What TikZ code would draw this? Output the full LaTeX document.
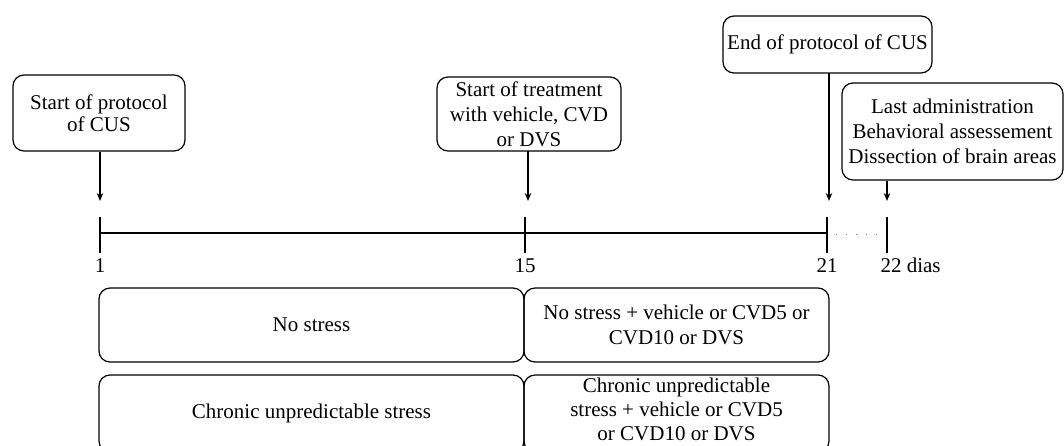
\documentclass[tikz,border=0pt]{standalone}
\usepackage{fontspec}
\setmainfont{Liberation Serif}
\usetikzlibrary{arrows.meta}
\begin{document}
\begin{tikzpicture}[x=1pt,y=-1pt,
  every node/.style={font=\fontsize{21}{25}\selectfont},
  evbox/.style={draw,line width=1.2pt,rounded corners=11pt,align=center,inner sep=0pt},
  arr/.style={line width=1.3pt,-{Stealth[length=8pt,width=6.5pt]}},
  tick/.style={line width=1.2pt},
  lbl/.style={anchor=base}
]
\clip (0,0) rectangle (1064,445);
\useasboundingbox (0,0) rectangle (1064,445);

% event boxes
\node[evbox,minimum width=172pt,minimum height=76pt,font=\fontsize{21}{22}\selectfont] (b1) at (99,113) {Start of protocol\\of CUS};
\node[evbox,minimum width=184pt,minimum height=74pt] (b2) at (529,114) {Start of treatment\\with vehicle, CVD\\or DVS};
\node[evbox,minimum width=209pt,minimum height=57pt] (b3) at (827.5,44.5) {End of protocol of CUS};
\node[evbox,minimum width=221pt,minimum height=97pt] (b4) at (952.5,131.5) {Last administration\\Behavioral assessement\\Dissection of brain areas};

% axis coordinates
\coordinate (t1) at (100,233);
\coordinate (t15) at (525,233);
\coordinate (t21) at (827,233);
\coordinate (t22) at (887,233);
\coordinate (a1) at (100,201);
\coordinate (a15) at (528,201);
\coordinate (a21) at (829,201);
\coordinate (a22) at (887,201);
\coordinate (s15) at (528,151);
\coordinate (s21) at (829,73);

% arrows
\draw[arr] (b1.south -| a1) -- (a1);
\draw[arr] (s15) -- (a15);
\draw[arr] (s21) -- (a21);
\draw[arr] (b4.south -| a22) -- (a22);

% axis
\draw[tick] (t1) -- (t21);
\foreach \t in {t1,t15,t21,t22}{
  \draw[tick] ([yshift=-20pt]\t) -- ([yshift=16pt]\t);
}
\draw[line width=1pt,gray,dash pattern=on 1pt off 9pt] ([xshift=9pt,yshift=-1pt]t21) -- ([xshift=-4pt,yshift=-1pt]t22);

% axis labels
\node[lbl] (l1) at (100,272) {1};
\node[lbl] (l15) at (525,272) {15};
\node[lbl] (l21) at (827,272) {21};
\node[lbl,anchor=base west] (l22) at (877,272) {22 dias};

% groups
\node[evbox,minimum width=425pt,minimum height=74pt] (ns1) at (311.5,325) {No stress};
\node[evbox,minimum width=305pt,minimum height=74pt] (ns2) at (676.5,325) {No stress + vehicle or CVD5 or\\CVD10 or DVS};
\node[evbox,minimum width=425pt,minimum height=77pt] (cs1) at (311.5,413.5) {Chronic unpredictable stress};
\node[evbox,minimum width=305pt,minimum height=77pt] (cs2) at (676.5,413.5) {};
\node[align=center,font=\fontsize{21}{24}\selectfont,inner sep=0pt] (cs2t) at (676.5,409) {Chronic unpredictable\\stress + vehicle or CVD5\\or CVD10 or DVS};
\end{tikzpicture}
\end{document}
